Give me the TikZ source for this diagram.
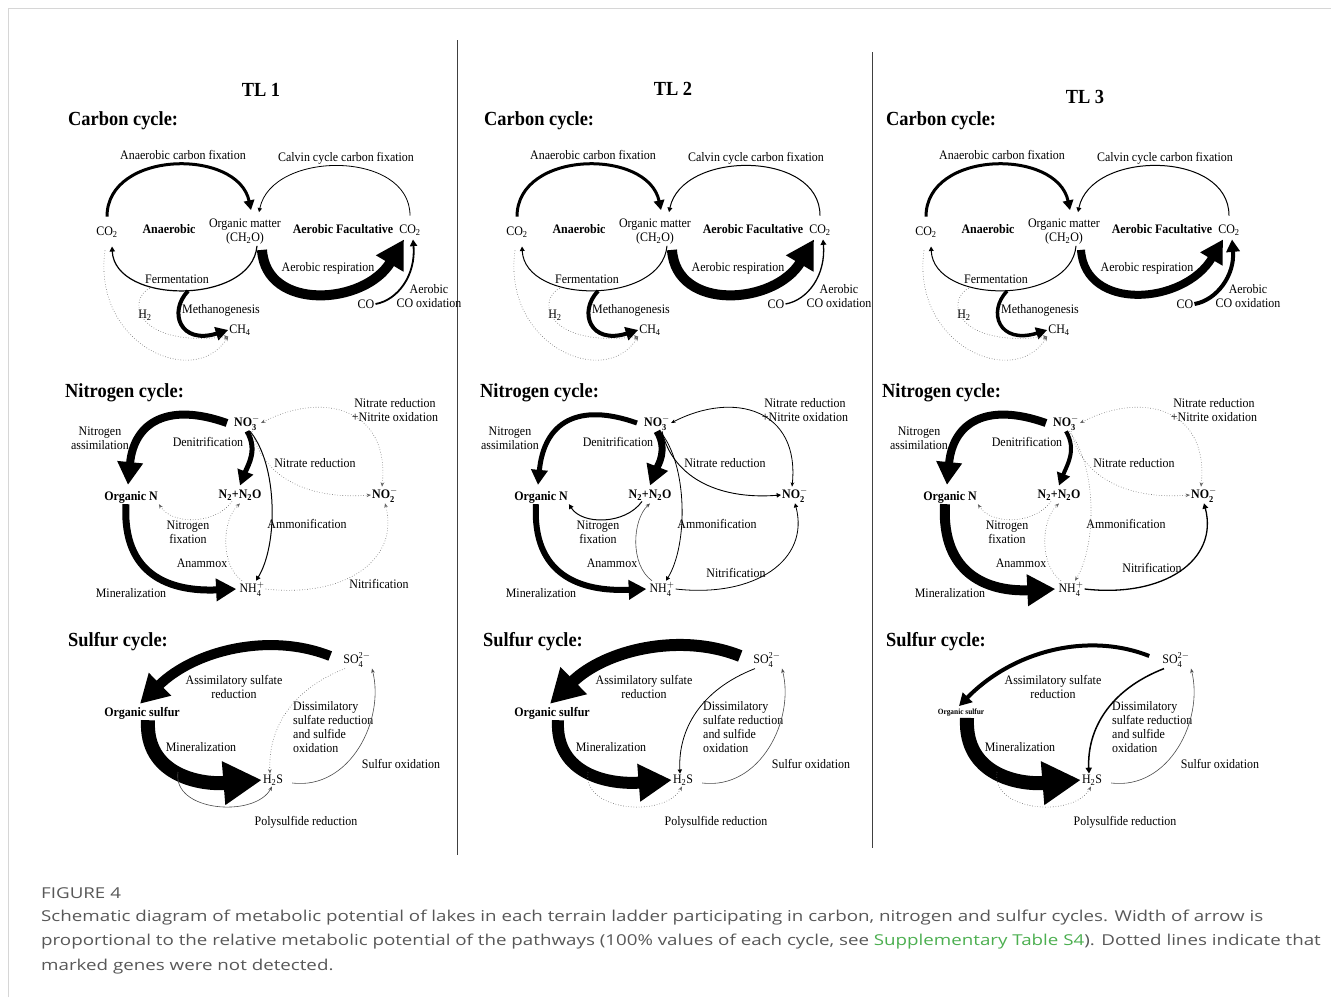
\documentclass[tikz,border=0pt]{standalone}
\usepackage{amsmath}
\usepackage{fontspec}
\setmainfont{Liberation Serif}[FakeStretch=0.92]
\newfontfamily\capfont{Open Sans}[FakeStretch=1.25]
\usetikzlibrary{arrows.meta}

\definecolor{capgrey}{RGB}{88,88,88}
\definecolor{capgreen}{RGB}{76,175,80}
\definecolor{framegrey}{RGB}{214,214,214}

\newcommand{\chemion}[3]{#1$_{\text{#2}}^{#3}$}

\tikzset{
  >={Stealth[length=4.5pt,width=3.6pt]},
  lbl/.style={font=\fontsize{13}{14}\selectfont, inner sep=1pt, align=center},
  bld/.style={lbl, font=\fontsize{13}{14}\selectfont\bfseries},
  orgsname/.style={bld},
  nitriflbl/.style={},
  head/.style={font=\fontsize{20}{22}\selectfont\bfseries, inner sep=0pt, anchor=base west},
  pw/.style={line width=#1pt, -{Triangle[length=2pt 2.6, width=2pt 2.8]}},
  undet/.style={line width=0.6pt, dotted, black!60, ->},
  faint/.style={line width=0.6pt, black!70, ->},
  capt/.style={font=\capfont\fontsize{15}{18}\selectfont, text=capgrey, inner sep=0pt, anchor=base west},
}

% carbon cycle, coordinates of the TL 1 panel
\newcommand{\carbonpanel}{%
  \node[lbl] (co2L) at (107,232) {CO\textsubscript{2}};
  \node[bld] (anae) at (169,229) {Anaerobic};
  \node[lbl] (om) at (245,232) {Organic matter\\(CH\textsubscript{2}O)};
  \node[bld] (aefa) at (343,229) {Aerobic Facultative};
  \node[lbl] (co2R) at (410,230) {CO\textsubscript{2}};
  \node[lbl] (co) at (366,304) {CO};
  \node[lbl] (ch4) at (240,330) {CH\textsubscript{4}};
  \node[lbl] (h2) at (145,315) {H\textsubscript{2}};
  \node[lbl] at (183,155) {Anaerobic carbon fixation};
  \node[lbl] at (346,158) {Calvin cycle carbon fixation};
  \node[lbl] at (177,279) {Fermentation};
  \node[lbl] at (221,310) {Methanogenesis};
  \node[lbl] at (328,268) {Aerobic respiration};
  \node[lbl] at (429,296) {Aerobic\\CO oxidation};
  \coordinate (fbot) at (188,291);
  \coordinate (fleft) at (152,287);
  \draw[anafix, shorten <=9pt] (co2L.north) .. controls (107,150) and (238,148) .. ([xshift=6pt,yshift=8pt]om.north);
  \draw[calvin, shorten <=8pt] (co2R.north) .. controls (410,150) and (272,150) .. ([xshift=14pt,yshift=6pt]om.north);
  \draw[ferment] ([xshift=12pt]om.south) .. controls (252,305) and (115,305) .. ([xshift=5pt,yshift=-8pt]co2L.south);
  \draw[aerresp] ([xshift=17pt,yshift=-4pt]om.south) .. controls (266,312) and (365,305) .. ([xshift=-6pt,yshift=-3pt]co2R.south);
  \draw[cooxid] (co.east) .. controls (398,300) and (416,275) .. ([xshift=3pt,yshift=-3pt]co2R.south);
  \draw[methano] (fbot) .. controls (168,312) and (180,345) .. (ch4.west);
  \draw[htwo] (fleft) .. controls (125,298) and (135,348) .. (ch4.south west);
  \draw[cotwo] ([xshift=-2pt,yshift=-12pt]co2L.south) .. controls (92,345) and (195,390) .. (ch4.south west);
}

% nitrogen cycle
\newcommand{\nitrogenpanel}{%
  \node[bld] (no3) at (247,423) {\chemion{NO}{3}{-}};
  \node[bld] (orgn) at (131,497) {Organic N};
  \node[bld] (n2) at (240,495) {N\textsubscript{2}+N\textsubscript{2}O};
  \node[bld] (no2) at (385,495) {\chemion{NO}{2}{-}};
  \node[lbl] (nh4) at (252,589) {\chemion{NH}{4}{+}};
  \node[lbl] at (395,410) {Nitrate reduction\\+Nitrite oxidation};
  \node[lbl] at (100,438) {Nitrogen\\assimilation};
  \node[lbl] at (208,442) {Denitrification};
  \node[lbl] at (315,463) {Nitrate reduction};
  \node[lbl] at (188,532) {Nitrogen\\fixation};
  \node[lbl] at (307,524) {Ammonification};
  \node[lbl] at (202,563) {Anammox};
  \node[lbl] at (131,593) {Mineralization};
  \node[lbl, nitriflbl] at (379,584) {Nitrification};
  \draw[nassim] ([xshift=-6pt]no3.west) .. controls (168,402) and (134,422) .. ([xshift=-3pt,yshift=5pt]orgn.north);
  \draw[denit] (no3.south) .. controls (258,450) and (248,465) .. ([yshift=3pt]n2.north);
  \draw[ammon] ([xshift=3pt]no3.south) .. controls (278,465) and (278,545) .. ([xshift=4pt]nh4.north);
  \draw[nitred] ([xshift=5pt]no3.south) .. controls (262,475) and (305,500) .. (no2.west);
  \draw[nrno, <->] (no3.east) .. controls (325,390) and (390,410) .. ([xshift=-3pt]no2.north);
  \draw[nfix] ([xshift=-8pt]n2.south) .. controls (215,525) and (172,525) .. (orgn.south east);
  \draw[anamx] ([xshift=-10pt]nh4.north) .. controls (220,565) and (222,520) .. ([yshift=-2pt]n2.south);
  \draw[nmin] ([xshift=-5pt]orgn.south) .. controls (122,575) and (170,592) .. ([xshift=-2pt]nh4.west);
  \draw[nitrif] (nh4.east) .. controls (345,598) and (400,560) .. (no2.south);
}

% sulfur cycle
\newcommand{\sulfurpanel}{%
  \node[lbl] (so4) at (357,660) {\chemion{SO}{4}{\text{2}-}};
  \node[orgsname] (orgs) at (142,713) {Organic sulfur};
  \node[lbl] (h2s) at (273,780) {H\textsubscript{2}S};
  \node[lbl] at (234,687) {Assimilatory sulfate\\reduction};
  \node[lbl, align=left, anchor=west] at (292,727) {Dissimilatory\\sulfate reduction\\and sulfide\\oxidation};
  \node[lbl] at (201,747) {Mineralization};
  \node[lbl] at (401,764) {Sulfur oxidation};
  \node[lbl] at (306,822) {Polysulfide reduction};
  \coordinate (pstart) at (178,772);
  \draw[assim] ([xshift=-12pt,yshift=4pt]so4.west) .. controls (270,632) and (195,650) .. ([xshift=-2pt,yshift=2pt]orgs.north);
  \draw[smin] ([xshift=6pt]orgs.south) .. controls (145,775) and (200,785) .. (h2s.west);
  \draw[dissim] ([xshift=-12pt]so4.south) .. controls (290,690) and (268,730) .. ([xshift=-3pt]h2s.north);
  \draw[soxid] ([xshift=8pt,yshift=-3pt]h2s.east) .. controls (350,790) and (385,720) .. ([xshift=15pt]so4.south);
  \draw[polys] (pstart) .. controls (172,812) and (255,818) .. ([xshift=-1pt]h2s.south);
}

\begin{document}
\begin{tikzpicture}[x=1pt, y=-1pt]
  \useasboundingbox (0,0) rectangle (1331,997);
  \fill[white] (0,0) rectangle (1331,997);
  \draw[framegrey, line width=1pt] (8,997) -- (8,8) -- (1331,8);
  \draw[black!75, line width=0.8pt] (457,40) -- (457,855);
  \draw[black!75, line width=0.8pt] (872,52) -- (872,848);

  \foreach \n/\tx/\ty/\cx/\nx/\sx in {1/261/96/68/65/68, 2/673/95/484/480/483, 3/1085/103/886/882/886}{
    \node[head, anchor=base] (tl\n) at (\tx,\ty) {TL \n};
    \node[head] (carb\n) at (\cx,125) {Carbon cycle:};
    \node[head] (nitr\n) at (\nx,397) {Nitrogen cycle:};
    \node[head] (sulf\n) at (\sx,646) {Sulfur cycle:};
  }

  % TL 1
  \begin{scope}[anafix/.style={pw=3}, calvin/.style={pw=0.8}, ferment/.style={pw=1.2},
      methano/.style={pw=4}, aerresp/.style={pw=10}, cooxid/.style={pw=1.8},
      htwo/.style={undet}, cotwo/.style={undet},
      nassim/.style={pw=8}, denit/.style={pw=5}, ammon/.style={pw=1},
      nitred/.style={undet}, nrno/.style={undet}, nfix/.style={undet},
      anamx/.style={undet}, nmin/.style={pw=7}, nitrif/.style={undet},
      assim/.style={pw=10}, smin/.style={pw=14}, dissim/.style={undet},
      soxid/.style={faint}, polys/.style={faint}]
    \carbonpanel
    \nitrogenpanel
    \sulfurpanel
  \end{scope}

  % TL 2
  \begin{scope}[shift={(410,0)},
      anafix/.style={pw=3}, calvin/.style={pw=1}, ferment/.style={pw=1},
      methano/.style={pw=4}, aerresp/.style={pw=10}, cooxid/.style={pw=1.3},
      htwo/.style={undet}, cotwo/.style={undet},
      nassim/.style={pw=5}, denit/.style={pw=7}, ammon/.style={pw=0.8},
      nitred/.style={pw=0.9}, nrno/.style={pw=0.8}, nfix/.style={pw=1},
      anamx/.style={faint}, nmin/.style={pw=6}, nitrif/.style={pw=0.8},
      assim/.style={pw=12}, smin/.style={pw=12}, dissim/.style={pw=0.8},
      soxid/.style={faint}, polys/.style={undet},
      nitriflbl/.style={xshift=-53pt, yshift=11pt}]
    \carbonpanel
    \nitrogenpanel
    \sulfurpanel
  \end{scope}

  % TL 3
  \begin{scope}[shift={(819,0)},
      anafix/.style={pw=3}, calvin/.style={pw=1}, ferment/.style={pw=1},
      methano/.style={pw=3.5}, aerresp/.style={pw=8}, cooxid/.style={pw=4},
      htwo/.style={undet}, cotwo/.style={undet},
      nassim/.style={pw=8}, denit/.style={pw=4}, ammon/.style={undet},
      nitred/.style={undet}, nrno/.style={undet}, nfix/.style={undet},
      anamx/.style={undet}, nmin/.style={pw=10}, nitrif/.style={pw=1.3},
      assim/.style={pw=4}, smin/.style={pw=14}, dissim/.style={pw=1.5},
      soxid/.style={faint}, polys/.style={undet},
      nitriflbl/.style={xshift=-46pt, yshift=16pt},
      orgsname/.style={bld, font=\fontsize{8}{9}\selectfont\bfseries}]
    \carbonpanel
    \nitrogenpanel
    \sulfurpanel
  \end{scope}

  % caption
  \node[capt, font=\capfont\fontsize{15}{18}\selectfont] (fig) at (41,898) {FIGURE 4};
  \node[capt] (cap1) at (41,921) {Schematic diagram of metabolic potential of lakes in each terrain ladder participating in carbon, nitrogen and sulfur cycles. Width of arrow is};
  \node[capt] (cap2) at (41,945.5) {proportional to the relative metabolic potential of the pathways (100\% values of each cycle, see \textcolor{capgreen}{Supplementary Table S4}). Dotted lines indicate that};
  \node[capt] (cap3) at (41,970) {marked genes were not detected.};
\end{tikzpicture}
\end{document}
